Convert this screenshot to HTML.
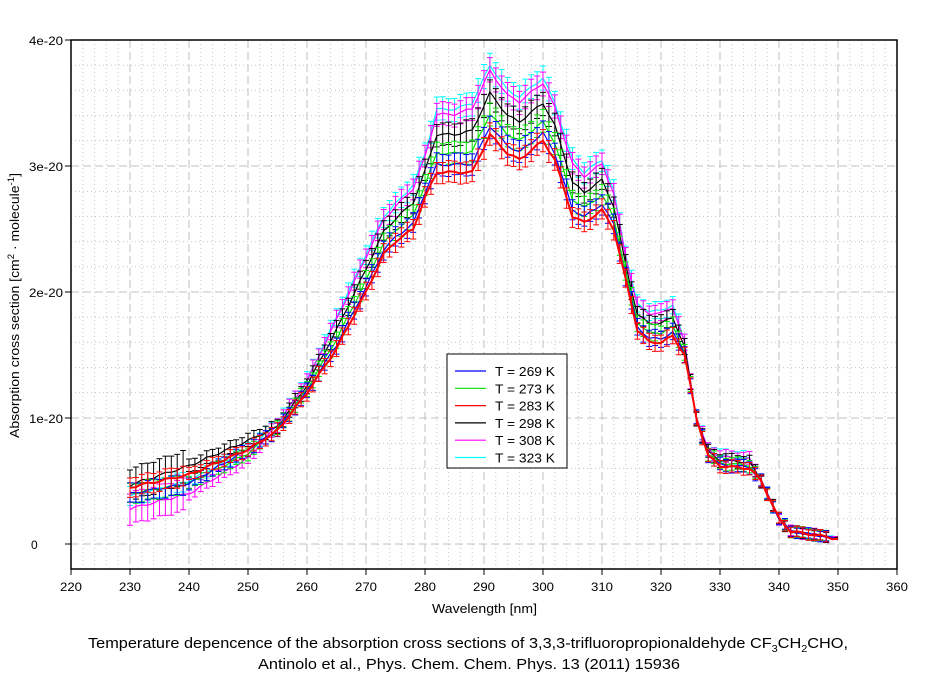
<!DOCTYPE html>
<html><head><meta charset="utf-8"><style>
body{margin:0;background:#fff;width:937px;height:677px;overflow:hidden;font-family:"Liberation Sans",sans-serif}
svg text{font-family:"Liberation Sans",sans-serif}
</style></head><body>
<svg id="s" width="937" height="677" xmlns="http://www.w3.org/2000/svg">
<g id="grid"></g>
<g id="data"></g>
<rect x="71" y="40" width="826" height="529" fill="none" stroke="#000" stroke-width="1.5"/>
<g id="ticks" font-size="12"></g>
<text x="432" y="613" font-size="13" textLength="105" lengthAdjust="spacingAndGlyphs">Wavelength [nm]</text>
<text transform="translate(19,438) rotate(-90)" font-size="13" textLength="265" lengthAdjust="spacingAndGlyphs">Absorption cross section [cm<tspan dy="-5" font-size="9">2</tspan><tspan dy="5"> · molecule</tspan><tspan dy="-5" font-size="9">-1</tspan><tspan dy="5">]</tspan></text>
<text x="88" y="648" font-size="15" textLength="760" lengthAdjust="spacingAndGlyphs">Temperature depencence of the absorption cross sections of 3,3,3-trifluoropropionaldehyde CF<tspan dy="4" font-size="10">3</tspan><tspan dy="-4">CH</tspan><tspan dy="4" font-size="10">2</tspan><tspan dy="-4">CHO,</tspan></text>
<text x="258" y="669" font-size="15" textLength="422" lengthAdjust="spacingAndGlyphs">Antinolo et al., Phys. Chem. Chem. Phys. 13 (2011) 15936</text>
<g id="legend">
<rect x="447" y="354" width="120" height="114" fill="#fff" stroke="#000" stroke-width="1"/>
</g>
</svg>
<script>
const NS="http://www.w3.org/2000/svg";
function el(p,t,a){const e=document.createElementNS(NS,t);for(const k in a)e.setAttribute(k,a[k]);p.appendChild(e);return e;}
const X=w=>71+(w-220)*5.9, Y=v=>544-v*126;
const grid=document.getElementById('grid'),tk=document.getElementById('ticks');
for(let w=222;w<360;w+=2){const x=X(w);
 if(w%10==0) el(grid,'line',{x1:x,y1:40,x2:x,y2:569,stroke:'#c0c0c0','stroke-dasharray':'8,4'});
 else el(grid,'line',{x1:x,y1:40,x2:x,y2:569,stroke:'#c8c8c8','stroke-dasharray':'1,3'});}
for(let i=-1;i<20;i++){const v=i*0.2,y=Y(v);if(y<41)continue;
 if(i%5==0) el(grid,'line',{x1:71,y1:y,x2:897,y2:y,stroke:'#c0c0c0','stroke-dasharray':'8,4'});
 else el(grid,'line',{x1:71,y1:y,x2:897,y2:y,stroke:'#c8c8c8','stroke-dasharray':'1,3'});}
for(let w=220;w<=360;w+=10){const x=X(w);el(tk,'line',{x1:x,y1:569,x2:x,y2:575,stroke:'#000'});
 el(tk,'text',{x:x-11,y:591,textLength:22,lengthAdjust:'spacingAndGlyphs'}).textContent=w;}
const yl=['0','1e-20','2e-20','3e-20','4e-20'];
for(let i=0;i<5;i++){const y=Y(i);el(tk,'line',{x1:65,y1:y,x2:71,y2:y,stroke:'#000'});
 if(i==0) el(tk,'text',{x:31,y:y+5}).textContent='0';
 else el(tk,'text',{x:29,y:y+5,textLength:34,lengthAdjust:'spacingAndGlyphs'}).textContent=yl[i];}
const red=[[255,0.9],[260,1.2],[265,1.55],[270,2.0],[273,2.3],[275,2.4],[278,2.5],[280,2.75],[282,2.95],[285,2.95],[288,2.95],[291,3.25],[294,3.1],[296,3.05],[300,3.2],[302,3.05],[305,2.6],[307,2.55],[310,2.65],[312,2.5],[314,2.1],[316,1.7],[318,1.6],[320,1.6],[322,1.65],[324,1.5],[326,1.0],[328,0.7],[330,0.62],[335,0.6],[337,0.5],[340,0.2],[342,0.1],[345,0.08],[350,0.04]];
const cy=[[255,0.95],[260,1.3],[265,1.8],[270,2.3],[273,2.6],[275,2.7],[278,2.85],[280,3.1],[282,3.45],[285,3.45],[288,3.5],[291,3.8],[294,3.6],[296,3.55],[300,3.7],[302,3.5],[305,3.05],[307,2.95],[310,3.05],[312,2.8],[314,2.3],[316,1.9],[318,1.85],[320,1.85],[322,1.9],[324,1.6],[326,1.0],[328,0.75],[330,0.7],[335,0.68],[337,0.5],[340,0.2],[342,0.1],[345,0.08],[350,0.05]];
function interp(t,w){if(w<=t[0][0])return t[0][1];for(let i=1;i<t.length;i++){if(w<=t[i][0]){const a=t[i-1],b=t[i];return a[1]+(b[1]-a[1])*(w-a[0])/(b[0]-a[0]);}}return t[t.length-1][1];}
const series=[
 {c:'#0000ff',f:0.12,lo:[0.4,0.48,0.75]},
 {c:'#00e000',f:0.3,lo:[0.4,0.48,0.72]},
 {c:'#ff0000',f:0,lo:[0.45,0.55,0.75]},
 {c:'#000000',f:0.6,lo:[0.47,0.62,0.82]},
 {c:'#ff00ff',f:0.92,lo:[0.28,0.4,0.68]},
 {c:'#00ffff',f:1,lo:[0.38,0.5,0.75]}];
const data=document.getElementById('data');
const order=[5,4,3,1,0,2];
for(const si of order){const s=series[si];let pts=[];const g=el(data,'g',{stroke:s.c,fill:'none'});
 for(let w=230;w<=350;w+=1){
  let main=interp(red,w)+s.f*(interp(cy,w)-interp(red,w));
  let lowt=[[230,s.lo[0]],[240,s.lo[1]],[250,s.lo[2]],[255,main]];
  let v=w<255?interp(lowt,w):main;
  v+=0.01*Math.sin(w*1.7+si);
  pts.push(X(w).toFixed(1)+','+Y(v).toFixed(1));
  if(w<349){const e=(w<240?(si==4||si==3?0.12:0.07):0.04)+0.015*v;const x=X(w);
   el(g,'line',{x1:x,y1:Y(v-e),x2:x,y2:Y(v+e)});
   el(g,'line',{x1:x-3,y1:Y(v-e),x2:x+3,y2:Y(v-e)});
   el(g,'line',{x1:x-3,y1:Y(v+e),x2:x+3,y2:Y(v+e)});}
 }
 el(data,'polyline',{points:pts.join(' '),fill:'none',stroke:s.c,'stroke-width':si==2?2:1.2});
}
const lg=document.getElementById('legend');
const names=['T = 269 K','T = 273 K','T = 283 K','T = 298 K','T = 308 K','T = 323 K'];
for(let i=0;i<6;i++){const y=371+i*17.3;
 el(lg,'line',{x1:455,y1:y,x2:486,y2:y,stroke:series[i].c,'stroke-width':1.2});
 el(lg,'text',{x:495,y:y+5,'font-size':13,textLength:60,lengthAdjust:'spacingAndGlyphs'}).textContent=names[i];}
</script>
</body></html>
